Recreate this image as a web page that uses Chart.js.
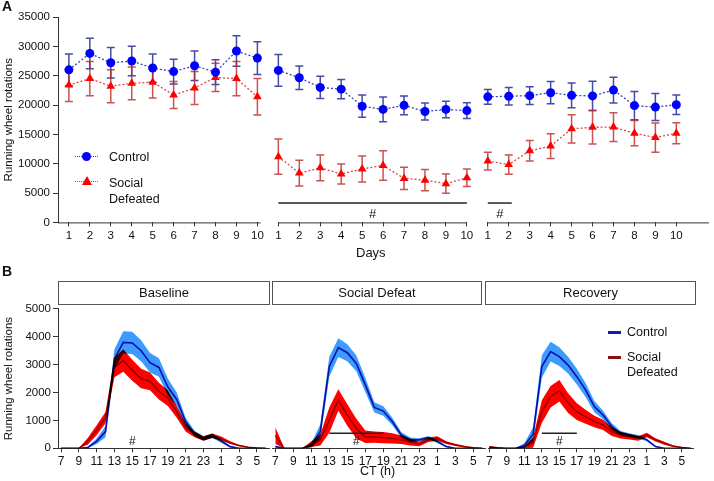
<!DOCTYPE html>
<html>
<head>
<meta charset="utf-8">
<script src="https://cdn.jsdelivr.net/npm/chart.js@4.4.1/dist/chart.umd.min.js"></script>
<style>
  body { margin: 0; background: #fff; font-family: "Liberation Sans", Arial, sans-serif; color: #111; }
  #fig { position: relative; width: 714px; height: 481px; overflow: hidden; }
  #fig canvas { position: absolute; }
  .lbl { position: absolute; white-space: nowrap; }
  .strip { position: absolute; top: 281px; height: 24px; box-sizing: border-box; border: 1.5px solid #555;
           font-size: 13px; line-height: 21px; text-align: center; }
  .dots { position: absolute; height: 0; border-top: 1.5px dotted; }
</style>
</head>
<body>
<div id="fig">
  <canvas id="chartA" width="714" height="265" style="left:0;top:0"></canvas>
  <canvas id="chartB1" width="272" height="181" style="left:0;top:300px"></canvas>
  <canvas id="chartB2" width="220" height="181" style="left:268px;top:300px"></canvas>
  <canvas id="chartB3" width="214" height="181" style="left:484px;top:300px"></canvas>

  <div class="lbl" style="left:2px;top:-2px;font-size:14px;font-weight:bold">A</div>
  <div class="lbl" style="left:2px;top:263px;font-size:14px;font-weight:bold">B</div>
  <div class="lbl" style="left:356px;top:245px;font-size:13px">Days</div>
  <div class="lbl" style="left:360px;top:464px;font-size:12.5px">CT (h)</div>

  <!-- panel A legend -->
  <div class="dots" style="left:75px;width:23px;top:156px;border-color:#3344bb"></div>
  <div class="lbl" style="left:82px;top:152px;width:9px;height:9px;border-radius:50%;background:#0000ff"></div>
  <div class="lbl" style="left:109px;top:150px;font-size:12.5px">Control</div>
  <div class="dots" style="left:75px;width:23px;top:181px;border-color:#dd4444"></div>
  <div class="lbl" style="left:82px;top:176px;width:0;height:0;border-left:5px solid transparent;border-right:5px solid transparent;border-bottom:9px solid #ff0000"></div>
  <div class="lbl" style="left:109px;top:175px;font-size:12.5px;line-height:16px">Social<br>Defeated</div>

  <!-- panel B strips -->
  <div class="strip" style="left:58px;width:212px">Baseline</div>
  <div class="strip" style="left:272px;width:210px">Social Defeat</div>
  <div class="strip" style="left:485px;width:211px">Recovery</div>

  <!-- panel B legend -->
  <div class="lbl" style="left:608px;top:331px;width:13px;height:2.5px;background:#1a1aa6"></div>
  <div class="lbl" style="left:627px;top:325px;font-size:12.5px">Control</div>
  <div class="lbl" style="left:608px;top:356px;width:13px;height:2.5px;background:#8b1010"></div>
  <div class="lbl" style="left:627px;top:350px;font-size:12.5px;line-height:15px">Social<br>Defeated</div>
</div>

<script>
// ---------- Panel A : daily running wheel rotations ----------
var days = [1, 2, 3, 4, 5, 6, 7, 8, 9, 10];
var phaseNames = ['Baseline', 'Social Defeat', 'Recovery'];

var ctrlBase    = [26000, 28800, 27200, 27500, 26300, 25700, 26700, 25600, 29200, 28000];
var ctrlBaseErr = [2700, 2600, 2600, 2500, 2400, 2100, 2500, 2100, 2600, 2800];
var ctrlSD      = [25900, 24650, 23000, 22700, 19800, 19250, 19950, 18900, 19250, 19050];
var ctrlSDErr   = [2700, 2000, 1900, 1650, 1900, 2100, 1600, 1450, 1400, 1350];
var ctrlRec     = [21400, 21500, 21600, 22100, 21650, 21550, 22550, 19900, 19650, 20050];
var ctrlRecErr  = [1250, 1500, 1500, 1900, 2100, 2500, 2200, 2400, 2300, 1650];

var sdBase      = [23400, 24500, 23200, 23700, 23900, 21700, 22900, 24700, 24500, 21400];
var sdBaseErr   = [2800, 2900, 2800, 2800, 2700, 2300, 2800, 2400, 2900, 3100];
var sdSD        = [11200, 8400, 9300, 8250, 9100, 9700, 7500, 7200, 6600, 7600];
var sdSDErr     = [3000, 2200, 2200, 1700, 2200, 2500, 1900, 1800, 1650, 1500];
var sdRec       = [10450, 9850, 12200, 13000, 15950, 16200, 16250, 15200, 14450, 15200];
var sdRecErr    = [1500, 1650, 1750, 2100, 2400, 2850, 2450, 2150, 2500, 1800];

var yTicksA = [0, 5000, 10000, 15000, 20000, 25000, 30000, 35000];
// "#" bars: [phase index, first day, last day]
var sigA = [[1, 1, 10], [2, 1, 2]];

// ---------- Panel B : hourly profiles (CT7 .. CT6 next day) ----------
var hours = [7, 8, 9, 10, 11, 12, 13, 14, 15, 16, 17, 18, 19, 20, 21, 22, 23, 24, 25, 26, 27, 28, 29, 30];
var hourTicks = [7, 9, 11, 13, 15, 17, 19, 21, 23, 25, 27, 29];
var yTicksB = [0, 1000, 2000, 3000, 4000, 5000];

var ctrlHrBase    = [0, 0, 0, 30, 250, 600, 3200, 3800, 3780, 3500, 3070, 2900, 2200, 1750, 950, 530, 350, 450, 260, 60, 0, 0, 0, 0];
var ctrlHrBaseErr = [0, 0, 0, 30, 100, 200, 350, 400, 400, 380, 350, 330, 300, 250, 150, 100, 80, 80, 60, 30, 0, 0, 0, 0];
var sdHrBase      = [0, 0, 0, 250, 650, 1100, 2900, 3150, 2800, 2500, 2400, 2050, 1800, 1300, 750, 500, 350, 450, 350, 200, 100, 40, 10, 0];
var sdHrBaseErr   = [0, 0, 0, 120, 180, 200, 350, 400, 380, 350, 320, 300, 280, 200, 150, 100, 80, 80, 70, 50, 30, 20, 10, 0];

var ctrlHrSD      = [60, 0, 0, 0, 100, 600, 2900, 3570, 3390, 3010, 2250, 1450, 1320, 950, 470, 300, 300, 380, 240, 60, 0, 0, 0, 0];
var ctrlHrSDErr   = [40, 0, 0, 0, 80, 250, 350, 330, 300, 280, 250, 180, 170, 130, 100, 80, 60, 60, 50, 30, 0, 0, 0, 0];
var sdHrSD        = [450, 0, 0, 0, 150, 300, 1000, 1710, 1180, 700, 410, 400, 380, 350, 300, 220, 150, 300, 350, 200, 120, 60, 20, 0];
var sdHrSDErr     = [300, 0, 0, 0, 100, 200, 450, 380, 380, 350, 220, 200, 200, 180, 150, 120, 80, 80, 80, 50, 40, 30, 10, 0];

var ctrlHrRec     = [30, 0, 0, 0, 100, 500, 2900, 3430, 3250, 2950, 2540, 2070, 1480, 1180, 770, 530, 470, 410, 300, 60, 0, 0, 0, 0];
var ctrlHrRecErr  = [30, 0, 0, 0, 80, 250, 400, 350, 330, 300, 280, 250, 200, 150, 120, 80, 60, 60, 50, 30, 0, 0, 0, 0];
var sdHrRec       = [50, 20, 0, 0, 30, 200, 1300, 1830, 2040, 1600, 1300, 1120, 950, 830, 590, 470, 410, 350, 470, 300, 180, 80, 30, 0];
var sdHrRecErr    = [30, 20, 0, 0, 30, 180, 400, 380, 380, 350, 300, 250, 200, 180, 150, 120, 100, 80, 80, 60, 50, 30, 20, 0];

// "#" marks per phase: [from CT, to CT, draw line]
var sigB = [[15, 15, false], [13, 19, true], [13, 17, true]];

Chart.defaults.font.family = '"Liberation Sans", Arial, sans-serif';
Chart.defaults.color = '#111';
Chart.defaults.animation = false;

function plainLabel(v) { return String(v); }

// ---------------- chart A ----------------
function phaseSet(vals, errs, phase, kind) {
    var isCtrl = kind === 'ctrl';
    return {
        data: vals.map(function (v, i) { return { x: days[i] + phase * 10, y: v }; }),
        errs: errs,
        errColor: isCtrl ? 'rgba(35,45,150,0.85)' : 'rgba(185,40,40,0.8)',
        borderColor: isCtrl ? '#3344bb' : '#dd4444',
        borderWidth: 1.3,
        borderDash: [2, 2],
        pointStyle: isCtrl ? 'circle' : 'triangle',
        pointRadius: isCtrl ? 4.5 : 5,
        pointBackgroundColor: isCtrl ? '#0000ff' : '#ff0000',
        pointBorderWidth: 0,
        tension: 0
    };
}

var errorBars = {
    id: 'errorBars',
    beforeDatasetsDraw: function (chart) {
        var ctx = chart.ctx, x = chart.scales.x, y = chart.scales.y;
        chart.data.datasets.forEach(function (ds) {
            ctx.save();
            ctx.strokeStyle = ds.errColor;
            ctx.lineWidth = 1.5;
            ds.data.forEach(function (p, i) {
                var px = x.getPixelForValue(p.x);
                var top = y.getPixelForValue(p.y + ds.errs[i]);
                var bot = y.getPixelForValue(p.y - ds.errs[i]);
                ctx.beginPath();
                ctx.moveTo(px, top); ctx.lineTo(px, bot);
                ctx.moveTo(px - 4, top); ctx.lineTo(px + 4, top);
                ctx.moveTo(px - 4, bot); ctx.lineTo(px + 4, bot);
                ctx.stroke();
            });
            ctx.restore();
        });
    }
};

// broken x axis + significance bars for panel A
var axisA = {
    id: 'axisA',
    afterDraw: function (chart) {
        var ctx = chart.ctx, x = chart.scales.x, y = chart.scales.y;
        var yb = y.getPixelForValue(0);
        var segs = [[x.min, 10.15], [11, 20], [21, x.max]];
        ctx.save();
        ctx.strokeStyle = '#333';
        ctx.lineWidth = 1;
        segs.forEach(function (s) {
            ctx.beginPath();
            ctx.moveTo(x.getPixelForValue(s[0]), yb + 0.5);
            ctx.lineTo(x.getPixelForValue(s[1]), yb + 0.5);
            ctx.stroke();
        });
        ctx.strokeStyle = '#222';
        ctx.lineWidth = 1.5;
        ctx.fillStyle = '#111';
        ctx.font = '13px "Liberation Sans", Arial, sans-serif';
        ctx.textAlign = 'center';
        ctx.textBaseline = 'middle';
        sigA.forEach(function (s) {
            var x0 = x.getPixelForValue(s[0] * 10 + s[1]);
            var x1 = x.getPixelForValue(s[0] * 10 + s[2]) + (s[2] - s[1] < 3 ? 3 : 0);
            var ly = y.getPixelForValue(3300);
            ctx.beginPath();
            ctx.moveTo(x0, ly); ctx.lineTo(x1, ly);
            ctx.stroke();
            ctx.fillText('#', (x0 + x1) / 2, ly + 11);
        });
        ctx.restore();
    }
};

var dsA = [
    phaseSet(ctrlBase, ctrlBaseErr, 0, 'ctrl'),
    phaseSet(ctrlSD, ctrlSDErr, 1, 'ctrl'),
    phaseSet(ctrlRec, ctrlRecErr, 2, 'ctrl'),
    phaseSet(sdBase, sdBaseErr, 0, 'sd'),
    phaseSet(sdSD, sdSDErr, 1, 'sd'),
    phaseSet(sdRec, sdRecErr, 2, 'sd')
];

new Chart(document.getElementById('chartA'), {
    type: 'line',
    data: { datasets: dsA },
    options: {
        responsive: false,
        layout: { padding: { top: 17, left: 0, right: 0, bottom: 0 } },
        plugins: { legend: { display: false }, tooltip: { enabled: false } },
        scales: {
            x: {
                type: 'linear', min: 0.48, max: 31.56,
                afterBuildTicks: function (s) {
                    s.ticks = [];
                    phaseNames.forEach(function (p, k) {
                        days.forEach(function (d) { s.ticks.push({ value: d + k * 10 }); });
                    });
                },
                afterFit: function (s) { s.height = 42.6; },
                border: { display: false },
                grid: { drawOnChartArea: false, tickLength: 4, color: '#333' },
                ticks: {
                    autoSkip: false, maxRotation: 0, padding: 3,
                    font: { size: 11.5 }, color: '#111',
                    callback: function (v) { return String((v - 1) % 10 + 1); }
                }
            },
            y: {
                min: 0, max: 35000,
                afterBuildTicks: function (s) { s.ticks = yTicksA.map(function (v) { return { value: v }; }); },
                afterFit: function (s) { s.width = 58; },
                border: { display: true, color: '#333', width: 1 },
                grid: { drawOnChartArea: false, tickLength: 5, color: '#333' },
                ticks: { font: { size: 11.5 }, color: '#111', padding: 3, callback: plainLabel },
                title: { display: true, text: 'Running wheel rotations', font: { size: 11.5 }, color: '#111', padding: 2 }
            }
        }
    },
    plugins: [errorBars, axisA]
});

// ---------------- charts B ----------------
var multiply = {
    id: 'multiply',
    beforeDatasetsDraw: function (chart) { chart.ctx.save(); chart.ctx.globalCompositeOperation = 'multiply'; },
    afterDatasetsDraw: function (chart) { chart.ctx.restore(); }
};

var sigMarks = {
    id: 'sigMarks',
    afterDraw: function (chart, args, opts) {
        var s = opts.sig;
        var ctx = chart.ctx, x = chart.scales.x, y = chart.scales.y;
        var x0 = x.getPixelForValue(s[0]), x1 = x.getPixelForValue(s[1]);
        var ly = y.getPixelForValue(530);
        ctx.save();
        if (s[2]) {
            ctx.strokeStyle = '#222';
            ctx.lineWidth = 1.5;
            ctx.beginPath(); ctx.moveTo(x0, ly); ctx.lineTo(x1, ly); ctx.stroke();
        }
        ctx.fillStyle = '#111';
        ctx.font = '12px "Liberation Sans", Arial, sans-serif';
        ctx.textAlign = 'center';
        ctx.textBaseline = 'middle';
        ctx.fillText('#', (x0 + x1) / 2, ly + 8);
        ctx.restore();
    }
};

function band(mean, err, sign) {
    return mean.map(function (v, i) { return { x: hours[i], y: Math.max(0, v + sign * err[i]) }; });
}

function makeB(id, ctrl, ctrlErr, sd, sdErr, sig, xr, pad, showY) {
    var pts = function (arr) { return arr.map(function (v, i) { return { x: hours[i], y: v }; }); };
    var datasets = [
        { data: pts(ctrl), borderColor: '#1a1aa6', borderWidth: 1.6, pointRadius: 0, fill: false, order: 0 },
        { data: pts(sd), borderColor: '#8b1010', borderWidth: 1.3, pointRadius: 0, fill: false, order: 0 },
        { data: band(ctrl, ctrlErr, 1), borderWidth: 0, pointRadius: 0, fill: '+1', backgroundColor: '#3d9bff', order: 1 },
        { data: band(ctrl, ctrlErr, -1), borderWidth: 0, pointRadius: 0, fill: false, order: 1 },
        { data: band(sd, sdErr, 1), borderWidth: 0, pointRadius: 0, fill: '+1', backgroundColor: '#ff0000', order: 1 },
        { data: band(sd, sdErr, -1), borderWidth: 0, pointRadius: 0, fill: false, order: 1 }
    ];
    var yScale = {
        display: showY,
        min: 0, max: 5000,
        afterBuildTicks: function (s) { s.ticks = yTicksB.map(function (v) { return { value: v }; }); },
        border: { display: true, color: '#333', width: 1 },
        grid: { drawOnChartArea: false, tickLength: 5, color: '#333' },
        ticks: { font: { size: 11.5 }, color: '#111', padding: 2, callback: plainLabel },
        title: { display: true, text: 'Running wheel rotations', font: { size: 11.5 }, color: '#111', padding: 2 }
    };
    if (showY) yScale.afterFit = function (s) { s.width = 58; };
    new Chart(document.getElementById(id), {
        type: 'line',
        data: { datasets: datasets },
        options: {
            responsive: false,
            layout: { padding: pad },
            plugins: { legend: { display: false }, tooltip: { enabled: false }, sigMarks: { sig: sig } },
            scales: {
                x: {
                    type: 'linear', min: xr[0], max: xr[1],
                    afterBuildTicks: function (s) { s.ticks = hourTicks.map(function (v) { return { value: v }; }); },
                    afterFit: function (s) { s.height = 32.7; },
                    border: { display: true, color: '#333', width: 1 },
                    grid: { drawOnChartArea: false, tickLength: 4, color: '#333' },
                    ticks: {
                        autoSkip: false, maxRotation: 0, padding: 2,
                        font: { size: 12 }, color: '#111',
                        callback: function (v) { return String(v > 24 ? v - 24 : v); }
                    }
                },
                y: yScale
            }
        },
        plugins: [multiply, sigMarks]
    });
}

makeB('chartB1', ctrlHrBase, ctrlHrBaseErr, sdHrBase, sdHrBaseErr, sigB[0], [6.66, 30.37],
      { top: 7.3, left: 0, right: 3, bottom: 0 }, true);
makeB('chartB2', ctrlHrSD, ctrlHrSDErr, sdHrSD, sdHrSDErr, sigB[1], [6.63, 30.3],
      { top: 7.3, left: 4, right: 3, bottom: 0 }, false);
makeB('chartB3', ctrlHrRec, ctrlHrRecErr, sdHrRec, sdHrRecErr, sigB[2], [6.85, 30.28],
      { top: 7.3, left: 4, right: 5, bottom: 0 }, false);
</script>
</body>
</html>
